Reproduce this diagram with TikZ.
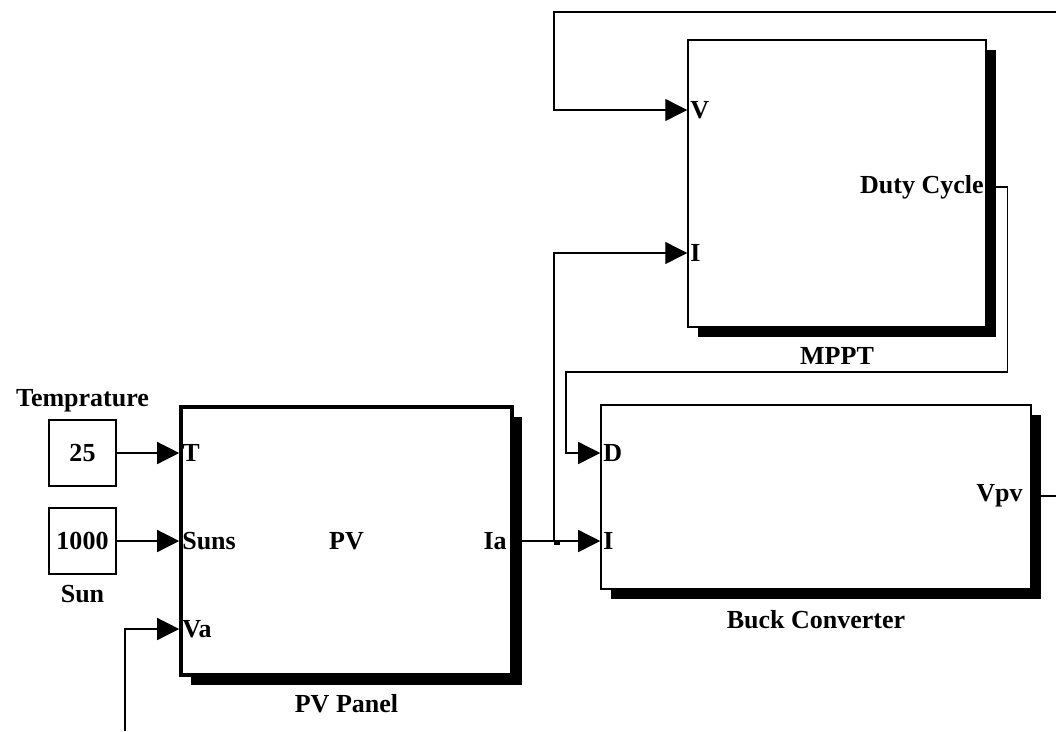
\documentclass[tikz,border=0pt]{standalone}
\usepackage{fontspec}
\setmainfont{Liberation Serif}
\usetikzlibrary{arrows.meta,positioning,shadows,calc}

\begin{document}
\begin{tikzpicture}[x=0.025cm, y=-0.025cm,
  font=\fontsize{18.5}{22}\selectfont\bfseries,
  wire/.style={line width=1pt},
  sig/.style={wire, -{Triangle[length=0.55cm, width=0.55cm]}},
  constbox/.style={draw, line width=1pt, minimum width=1.675cm, minimum height=1.65cm, inner sep=0pt},
  block/.style={draw, fill=white, line width=1pt, inner sep=0pt,
    drop shadow={shadow xshift=0.25cm, shadow yshift=-0.25cm, opacity=1, fill=black}},
  port/.style={inner sep=2pt},
  caption/.style={inner sep=1pt}]
  \useasboundingbox (0,0) rectangle (1056,731);

  % Sources
  \node[constbox] (c25) at (82.5,453) {25};
  \node[constbox] (c1000) at (82.5,541) {1000};
  \node[caption, above=0.15cm of c25] (lTemp) {Temprature};
  \node[caption, below=0.23cm of c1000] (lSun) {Sun};

  % Blocks
  \node[block, line width=2.5pt, minimum width=8.275cm, minimum height=6.7cm] (pv) at (346.5,541) {PV};
  \node[block, minimum width=7.45cm, minimum height=7.175cm] (mppt) at (837,183.5) {};
  \node[block, minimum width=10.75cm, minimum height=4.6cm] (buck) at (816,497) {};
  \node[caption, below=0.4cm of pv] (lPV) {PV Panel};
  \node[caption, below=0.46cm of mppt] (lMPPT) {MPPT};
  \node[caption, below=0.47cm of buck] (lBuck) {Buck Converter};

  % Ports
  \node[port, anchor=west] (pT) at (pv.west |- c25) {T};
  \node[port, anchor=west] (pS) at (pv.west |- c1000) {Suns};
  \node[port, anchor=west] (pVa) at (pv.west |- 0,629) {Va};
  \node[port, anchor=east] (pIa) at ([xshift=-0.1cm]pv.east) {Ia};
  \node[port, anchor=west] (mV) at (mppt.west |- 0,110) {V};
  \node[port, anchor=west] (mI) at (mppt.west |- 0,253) {I};
  \node[port, anchor=east] (mD) at (mppt.east |- 0,187) {Duty Cycle};
  \node[port, anchor=west] (bD) at (buck.west |- c25) {D};
  \node[port, anchor=west] (bI) at (buck.west |- c1000) {I};
  \node[port, anchor=east] (bV) at ([xshift=-0.15cm]buck.east |- 0,496) {Vpv};

  % Signals
  \coordinate (vaIn) at (125,731);
  \coordinate (split) at (554,541);
  \coordinate (fbR) at (1056,12);
  \coordinate (fbL) at (split |- fbR);
  \coordinate (dLow) at (566,372);
  \draw[sig] (c25) -- (pT.west);
  \draw[sig] (c1000) -- (pS.west);
  \draw[sig] (vaIn) |- (pVa.west);
  \draw[sig] (pv.east) -- (bI.west);
  \draw[sig] (split) |- (mI.west);
  \fill ($(split)+(0,-1)$) rectangle +(6,5);
  \draw[sig] (fbR) -- (fbL) |- (mV.west);
  \draw[sig] (mppt.east |- mD) -- ++(21,0) |- (dLow) |- (bD.west);
  \draw[wire] (buck.east |- bV) -- (bV -| fbR);
\end{tikzpicture}
\end{document}
